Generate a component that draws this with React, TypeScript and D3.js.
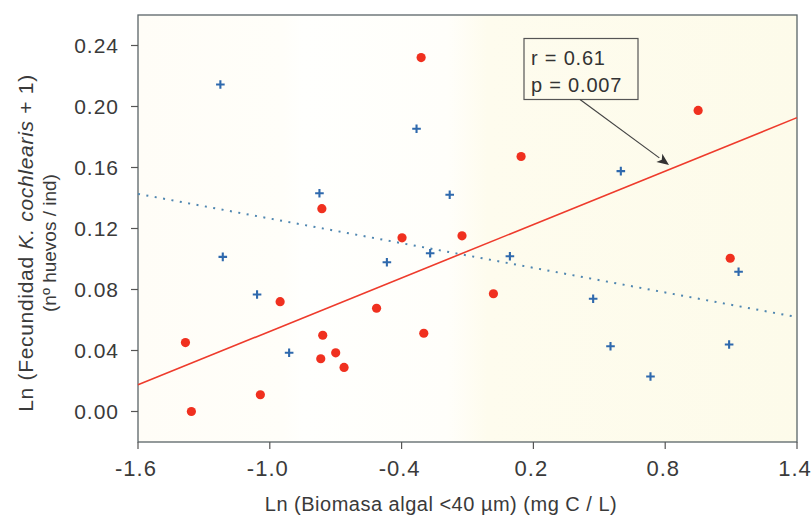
import React, { useEffect, useRef } from "react";
import * as d3 from "d3";

// red circles
const redX = [-1.384, -1.357, -1.043, -0.953, -0.763, -0.759, -0.768, -0.7, -0.662, -0.514, -0.398, -0.311, -0.299, -0.125, 0.018, 0.144, 0.95, 1.096];
const redY = [0.0452, 0.0, 0.011, 0.072, 0.133, 0.05, 0.0346, 0.0385, 0.0289, 0.0677, 0.1139, 0.2321, 0.0513, 0.1152, 0.0772, 0.1672, 0.1974, 0.1005];

// blue crosses
const blueX = [-1.225, -1.214, -1.058, -0.912, -0.774, -0.467, -0.332, -0.27, -0.181, 0.093, 0.472, 0.551, 0.598, 0.733, 1.091, 1.134];
const blueY = [0.2144, 0.1014, 0.0767, 0.0385, 0.1431, 0.0979, 0.1854, 0.1038, 0.1421, 0.1018, 0.0739, 0.0428, 0.1576, 0.023, 0.0439, 0.0916];

// fitted lines (end points)
const redFitX = [-1.6, 1.4];
const redFitY = [0.0175, 0.1927];
const blueFitX = [-1.6, 1.4];
const blueFitY = [0.1427, 0.0619];

const xTicks = [-1.6, -1.0, -0.4, 0.2, 0.8, 1.4];
const yTicks = [0.0, 0.04, 0.08, 0.12, 0.16, 0.2, 0.24];

const statLines = ["r = 0.61", "p = 0.007"];

const FONT = "'Liberation Sans', Arial, sans-serif";

const DrawChart = (element: any) => {
  const width = 812;
  const height = 520;
  const left = 138, right = 797, top = 15, bottom = 442;

  d3.select(element).select("svg").remove();

  const svg = d3
    .select(element)
    .append("svg")
    .attr("width", width)
    .attr("height", height)
    .style("position", "absolute")
    .style("left", "0px")
    .style("top", "0px")
    .style("background", "#fff");

  const x = d3.scaleLinear().domain([-1.6, 1.4]).range([left, right]);
  const y = d3.scaleLinear().domain([-0.02, 0.26]).range([bottom, top]);

  // background gradient
  const grad = svg
    .append("defs")
    .append("linearGradient")
    .attr("id", "bg")
    .attr("x1", "0")
    .attr("x2", "1")
    .attr("y1", "0")
    .attr("y2", "0");
  [
    [0, "#fffdf7"],
    [0.22, "#fffef9"],
    [0.25, "#fffffd"],
    [0.47, "#fffefa"],
    [0.53, "#fefcee"],
    [1, "#fdfbea"],
  ].forEach(([o, c]) => grad.append("stop").attr("offset", o as number).attr("stop-color", c as string));

  svg
    .append("rect")
    .attr("x", left)
    .attr("y", top)
    .attr("width", right - left)
    .attr("height", bottom - top)
    .attr("fill", "url(#bg)");

  // frame
  svg
    .append("rect")
    .attr("x", left)
    .attr("y", top)
    .attr("width", right - left)
    .attr("height", bottom - top)
    .attr("fill", "none")
    .attr("stroke", "#5a6468")
    .attr("stroke-width", 1.3);

  // x ticks
  const xg = svg.append("g");
  xTicks.forEach((t) => {
    xg.append("line")
      .attr("x1", x(t))
      .attr("x2", x(t))
      .attr("y1", bottom)
      .attr("y2", bottom + 7)
      .attr("stroke", "#555")
      .attr("stroke-width", 1.2);
    xg.append("text")
      .attr("x", x(t) - 2)
      .attr("y", 476)
      .attr("text-anchor", "middle")
      .style("font-family", FONT)
      .style("font-size", "22px")
      .style("letter-spacing", "1px")
      .style("fill", "#3a3a3a")
      .text(t.toFixed(1));
  });

  // y ticks
  const yg = svg.append("g");
  yTicks.forEach((t) => {
    yg.append("line")
      .attr("x1", left - 7)
      .attr("x2", left)
      .attr("y1", y(t))
      .attr("y2", y(t))
      .attr("stroke", "#555")
      .attr("stroke-width", 1.2);
    yg.append("text")
      .attr("x", 119)
      .attr("y", y(t))
      .attr("dy", "0.36em")
      .attr("text-anchor", "end")
      .style("font-family", FONT)
      .style("font-size", "21px")
      .style("letter-spacing", "1px")
      .style("fill", "#3a3a3a")
      .text(t.toFixed(2));
  });

  // axis titles
  svg
    .append("text")
    .attr("x", 441)
    .attr("y", 511)
    .attr("text-anchor", "middle")
    .style("font-family", FONT)
    .style("font-size", "20px")
    .style("letter-spacing", "0.5px")
    .style("fill", "#3a3a3a")
    .text("Ln (Biomasa algal <40 µm) (mg C / L)");

  const yt = svg
    .append("text")
    .attr("transform", "translate(33,243) rotate(-90)")
    .attr("text-anchor", "middle")
    .style("font-family", FONT)
    .style("font-size", "21px")
    .style("letter-spacing", "0.7px")
    .style("fill", "#3a3a3a");
  yt.append("tspan").text("Ln (Fecundidad ");
  yt.append("tspan").style("font-style", "italic").text("K. cochlearis");
  yt.append("tspan").text(" + 1)");

  svg
    .append("text")
    .attr("transform", "translate(56,243) rotate(-90)")
    .attr("text-anchor", "middle")
    .style("font-family", FONT)
    .style("font-size", "19px")
    .style("fill", "#3a3a3a")
    .text("(nº huevos / ind)");

  // fit lines
  const line = d3
    .line<number>()
    .x((d) => x(d));
  svg
    .append("path")
    .attr("d", line.y((d, i) => y(blueFitY[i]))(blueFitX) as string)
    .attr("fill", "none")
    .attr("stroke", "#4f86b0")
    .attr("stroke-width", 2)
    .attr("stroke-dasharray", "2,6.5");

  svg
    .append("path")
    .attr("d", line.y((d, i) => y(redFitY[i]))(redFitX) as string)
    .attr("fill", "none")
    .attr("stroke", "#ee3b2c")
    .attr("stroke-width", 1.6);

  // blue crosses
  const s = 4.3;
  svg
    .append("g")
    .selectAll("path")
    .data(blueX)
    .enter()
    .append("path")
    .attr("d", (d, i) => {
      const cx = x(d), cy = y(blueY[i]);
      return `M${cx - s},${cy}H${cx + s}M${cx},${cy - s}V${cy + s}`;
    })
    .attr("stroke", "#2f69ad")
    .attr("stroke-width", 2.1);

  // red dots
  svg
    .append("g")
    .selectAll("circle")
    .data(redX)
    .enter()
    .append("circle")
    .attr("cx", (d) => x(d))
    .attr("cy", (d, i) => y(redY[i]))
    .attr("r", 4.6)
    .attr("fill", "#f0301f");

  // annotation box + arrow
  svg
    .append("rect")
    .attr("x", 524)
    .attr("y", 38.5)
    .attr("width", 114)
    .attr("height", 61)
    .attr("fill", "none")
    .attr("stroke", "#555")
    .attr("stroke-width", 1.2);
  statLines.forEach((t, i) => {
    svg
      .append("text")
      .attr("x", 531)
      .attr("y", 65 + i * 26.5)
      .style("font-family", FONT)
      .style("font-size", "20px")
      .style("letter-spacing", "0.8px")
      .style("fill", "#333")
      .text(t);
  });

  const ax1 = 580, ay1 = 99.5, ax2 = 669, ay2 = 165;
  const ang = Math.atan2(ay2 - ay1, ax2 - ax1);
  const hl = 12, hw = 5;
  const bx = ax2 - hl * Math.cos(ang), by = ay2 - hl * Math.sin(ang);
  svg
    .append("line")
    .attr("x1", ax1)
    .attr("y1", ay1)
    .attr("x2", bx)
    .attr("y2", by)
    .attr("stroke", "#444")
    .attr("stroke-width", 1.2);
  svg
    .append("path")
    .attr(
      "d",
      `M${ax2},${ay2}L${bx + hw * Math.sin(ang)},${by - hw * Math.cos(ang)}L${bx + 3 * Math.cos(ang)},${by + 3 * Math.sin(ang)}L${bx - hw * Math.sin(ang)},${by + hw * Math.cos(ang)}Z`
    )
    .attr("fill", "#333");
};

export default function App() {
  const ref = useRef<HTMLDivElement>(null);
  useEffect(() => {
    DrawChart(ref.current);
  }, []);
  return <div ref={ref} />;
}
